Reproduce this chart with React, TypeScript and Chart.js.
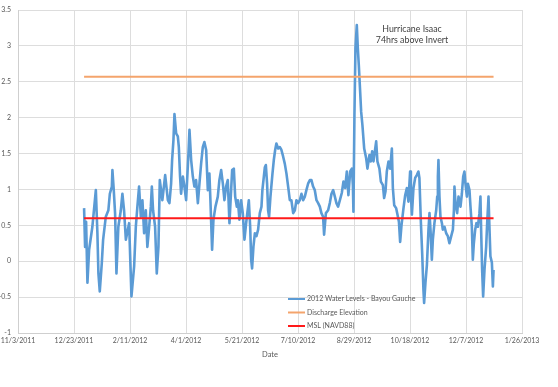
import React, { useEffect, useRef } from "react";
import { Chart, registerables } from "chart.js";

Chart.register(...registerables);

// X axis: days relative to 1/1/2012 (day 0). Axis spans 11/3/2011 (-59) to 1/26/2013 (391)
const xMin = -59;
const xMax = 391;
const xStep = 50;
const xTickLabels = [
  "11/3/2011",
  "12/23/2011",
  "2/11/2012",
  "4/1/2012",
  "5/21/2012",
  "7/10/2012",
  "8/29/2012",
  "10/18/2012",
  "12/7/2012",
  "1/26/2013",
];
const yMin = -1;
const yMax = 3.5;
const yStep = 0.5;
const xTitle = "Date";

const seriesNames = [
  "2012 Water Levels - Bayou Gauche",
  "Discharge Elevation",
  "MSL (NAVD88)",
];
const annotationLines = ["Hurricane Isaac", "74hrs above Invert"];

// 2012 Water Levels - Bayou Gauche (day of 2012, level)
const dayOfYear = [
  0.0, 0.9, 1.8, 3.0, 4.5, 7.4, 10.5, 11.9, 12.8, 14.0, 15.8, 17.0, 19.4, 21.7, 23.0, 24.8, 25.3, 26.5, 27.7, 28.9,
  30.6, 32.8, 34.2, 35.7, 37.3, 40.2, 42.3, 44.7, 46.2, 47.6, 49.1, 50.7, 52.1, 53.6, 55.1, 56.5, 58.1, 59.6, 60.5, 61.6,
  63.4, 64.9, 66.4, 67.6, 69.9, 72.4,
  74.8, 76.2, 77.7, 78.6, 79.8, 80.7, 82.2, 83.7, 84.6, 85.7, 86.6, 88.2, 89.6, 91.1, 92.0, 93.2, 94.1, 95.6, 97.1, 98.5,
  100.0, 101.6, 103.0, 104.5, 106.0, 107.4, 109.0, 110.5, 111.9, 112.8, 114.3, 115.5, 117.3, 119.4, 120.8, 122.4, 123.9,
  125.3, 126.8, 128.3, 129.8, 130.7, 132.2, 133.7, 134.9, 136.4, 137.3, 138.7, 140.2, 141.7, 143.2, 144.7, 147.1, 148.3,
  149.2, 150.0, 151.2,
  152.5, 153.9, 155.4, 156.9, 158.4, 159.2, 160.5, 161.4, 162.3, 163.4, 164.3, 165.2, 166.4, 168.2, 169.4, 170.6, 171.7,
  173.3, 174.8, 176.2, 177.7, 179.2, 180.7, 182.2, 183.7, 185.1, 186.7, 188.2, 189.6, 191.1, 192.6, 194.1, 195.6, 197.1,
  198.5, 200.0, 201.6, 203.0, 204.5, 206.0, 207.5, 209.0, 210.5, 211.9, 213.4, 214.3, 215.9, 217.9, 219.4, 220.9, 222.4,
  223.9, 225.3, 226.8, 228.4,
  230.1, 231.6, 233.1, 234.6, 236.0, 237.6, 239.1, 240.0, 240.5, 241.4, 242.3, 243.5, 244.4, 245.3, 246.5, 247.4, 248.5,
  250.1, 251.9, 253.0, 254.8, 256.0, 257.2, 258.4, 259.6, 260.8, 261.9, 263.7, 265.0, 266.8, 267.9, 269.1, 270.3, 271.8,
  273.3, 274.8, 275.7, 276.9, 278.6, 279.8, 281.1, 282.2, 283.4, 285.2, 286.7, 288.2, 289.6, 291.1, 291.8, 292.7, 294.1,
  295.6, 297.1, 298.5, 299.4, 300.7, 301.9, 303.0, 303.6, 304.8, 306.1, 307.5, 308.4, 309.3, 310.5, 311.4, 312.8, 314.4,
  315.3, 315.9, 316.4, 317.3, 318.2, 319.5, 320.3, 321.8, 323.3, 324.8, 326.2, 327.8, 329.3, 330.2, 330.7, 331.6, 333.1,
  334.3, 336.1, 337.3, 338.5, 339.6, 340.5, 341.8, 342.7, 344.1, 345.0, 346.2, 347.1, 348.0, 349.2, 350.3, 351.6, 353.0,
  353.9, 354.5, 355.4, 356.3, 357.5, 359.0, 359.9, 361.1, 362.0, 362.8, 364.1, 365.0, 365.6,
];
const waterLevel = [
  0.74, 0.2, 0.55, -0.3, 0.16, 0.48, 0.99, 0.39, -0.17, -0.42, -0.03, 0.3, 0.62, 0.71, 0.94, 1.04, 1.27, 0.99, 0.66, -0.17,
  0.48, 0.71, 0.94, 0.71, 0.3, 0.53, -0.49, -0.07, 0.48, 0.76, 1.04, 0.62, 0.85, 0.39, 0.71, 0.2, 0.48, 0.76, 1.04, 0.71,
  0.48, -0.17, 0.2, 1.13, 0.85, 1.2,
  0.85, 0.81, 1.08, 1.41, 1.69, 2.05, 1.78, 1.74, 1.59, 1.18, 0.94, 1.18, 1.04, 0.85, 1.13, 1.5, 1.83, 1.41, 1.18, 1.04,
  1.13, 0.81, 1.08, 1.36, 1.59, 1.66, 1.55, 0.99, 1.22, 0.85, 0.16, 0.58, 0.76, 0.9, 1.13, 1.27, 1.08,
  0.85, 1.04, 1.13, 0.53, 0.81, 1.27, 1.29, 0.9, 0.76, 0.85, 0.58, 0.85, 0.67, 0.3, 0.53, 0.85, 0.48,
  0.02, -0.1, 0.2,
  0.39, 0.35, 0.44, 0.67, 0.76, 0.99, 1.18, 1.31, 1.34, 1.08, 0.71, 0.62, 0.9, 1.22, 1.41, 1.55, 1.64,
  1.57, 1.59, 1.55, 1.46, 1.36, 1.22, 1.04, 0.85, 0.85, 0.67, 0.71, 0.85, 0.81, 0.85, 0.94, 0.85, 0.9,
  0.99, 1.08, 1.13, 1.13, 1.04, 0.99, 0.85, 0.81, 0.76, 0.67, 0.62, 0.37, 0.67, 0.71, 0.81, 0.94, 0.99,
  0.9, 0.81, 0.76, 0.85,
  0.95, 1.11, 1.02, 1.25, 0.92, 1.25, 1.29, 1.06, 0.69, 2.04, 2.97, 3.29, 2.97, 2.73, 2.36, 2.08, 1.9,
  1.57, 1.43, 1.29, 1.48, 1.39, 1.53, 1.39, 1.53, 1.67, 1.39, 1.29, 1.11, 1.06, 0.88, 0.97, 1.25, 1.39,
  1.29, 1.57, 1.02, 0.78, 0.74, 0.65, 0.55, 0.27, 0.5, 0.74, 0.92, 1.02, 0.83, 1.25, 0.92, 0.65, 1.02,
  1.16, 1.2, 1.25, 1.16, 0.55, 0.1, -0.4, -0.58, -0.3, -0.05, 0.44, 0.67, 0.44, 0.02, 0.3, 0.53, 0.71,
  0.9, 1.18, 1.41, 0.9, 0.62, 0.53, 0.44, 0.48, 0.39, 0.35, 0.25, 0.35, 0.44, 0.71, 1.04, 0.81, 0.67,
  0.9, 0.76, 0.94, 1.18, 1.25, 1.08, 0.9, 1.08, 0.99, 0.76, 0.48, 0.02, 0.25, 0.44, 0.53, 0.48, 0.67,
  0.9, 0.44, -0.12, -0.49, -0.12, 0.2, 0.53, 0.9, 0.44, 0.07, -0.02, -0.35, -0.12,
];

const dischargeDays = [0, 365.6];
const dischargeElevation = [2.57, 2.57];
const mslDays = [0, 365.6];
const mslLevel = [0.6, 0.6];

const seriesColors = ["#5B9BD5", "#F4A46C", "#FF1A1A"];
const fontFamily = "Lato, 'Liberation Sans', sans-serif";

const toPoints = (xs: number[], ys: number[]) => xs.map((x, i) => ({ x, y: ys[i] }));

const overlayPlugin = {
  id: "overlay",
  afterDraw(chart: any) {
    const ctx = chart.ctx;
    ctx.save();
    // legend
    ctx.font = `7px ${fontFamily}`;
    ctx.textBaseline = "middle";
    ctx.textAlign = "left";
    const lx = 288;
    const rows = [299, 312.5, 326];
    seriesNames.forEach((name, i) => {
      ctx.strokeStyle = seriesColors[i];
      ctx.lineWidth = 2;
      ctx.beginPath();
      ctx.moveTo(lx, rows[i]);
      ctx.lineTo(lx + 17, rows[i]);
      ctx.stroke();
      ctx.fillStyle = "#595959";
      ctx.fillText(name, lx + 19, rows[i]);
    });
    // annotation
    ctx.font = `8.8px ${fontFamily}`;
    ctx.textAlign = "center";
    ctx.fillStyle = "#404040";
    ctx.fillText(annotationLines[0], 412, 29.5);
    ctx.fillText(annotationLines[1], 412, 40);
    ctx.restore();
  },
};

export default function App() {
  const ref = useRef<HTMLCanvasElement | null>(null);
  useEffect(() => {
    if (!ref.current) return;
    const chart = new Chart(ref.current, {
      type: "line",
      data: {
        datasets: [
          {
            label: seriesNames[0],
            data: toPoints(dayOfYear, waterLevel),
            borderColor: seriesColors[0],
            borderWidth: 2.6,
            pointRadius: 0,
            tension: 0,
            borderJoinStyle: "round",
            order: 3,
          },
          {
            label: seriesNames[1],
            data: toPoints(dischargeDays, dischargeElevation),
            borderColor: seriesColors[1],
            borderWidth: 2,
            pointRadius: 0,
            order: 2,
          },
          {
            label: seriesNames[2],
            data: toPoints(mslDays, mslLevel),
            borderColor: seriesColors[2],
            borderWidth: 2,
            pointRadius: 0,
            order: 1,
          },
        ],
      },
      options: {
        responsive: false,
        animation: false,
        layout: { padding: { left: 0, right: 36, top: 10, bottom: 24 } },
        plugins: {
          legend: { display: false },
          tooltip: { enabled: false },
        },
        scales: {
          x: {
            type: "linear",
            min: xMin,
            max: xMax,
            afterBuildTicks: (scale: any) => {
              scale.ticks = xTickLabels.map((_, i) => ({ value: xMin + i * xStep }));
            },
            afterFit: (scale: any) => {
              scale.height = 30;
              scale.paddingLeft = 0;
              scale.paddingRight = 0;
            },
            ticks: {
              autoSkip: false,
              maxRotation: 0,
              padding: 4,
              color: "#595959",
              font: { family: fontFamily, size: 7 },
              callback: (_v: any, i: number) => xTickLabels[i],
            },
            grid: { color: "#DDDDDD", lineWidth: 1, drawTicks: false },
            border: { color: "#CFCFCF" },
            title: {
              display: true,
              text: xTitle,
              color: "#595959",
              font: { family: fontFamily, size: 7.5 },
              padding: { top: 0, bottom: 4 },
            },
          },
          y: {
            type: "linear",
            min: yMin,
            max: yMax,
            afterFit: (scale: any) => {
              scale.width = 18;
              scale.paddingTop = 0;
              scale.paddingBottom = 0;
            },
            ticks: {
              stepSize: yStep,
              padding: 7,
              color: "#595959",
              font: { family: fontFamily, size: 7 },
              callback: (v: any) => String(Number(v)),
            },
            grid: { color: "#DDDDDD", lineWidth: 1, drawTicks: false },
            border: { color: "#CFCFCF" },
          },
        },
      },
      plugins: [overlayPlugin],
    });
    return () => chart.destroy();
  }, []);
  return (
    <div style={{ position: "fixed", left: 0, top: 0, width: 558, height: 387, background: "#fff" }}>
      <canvas ref={ref} width={558} height={387} />
    </div>
  );
}
